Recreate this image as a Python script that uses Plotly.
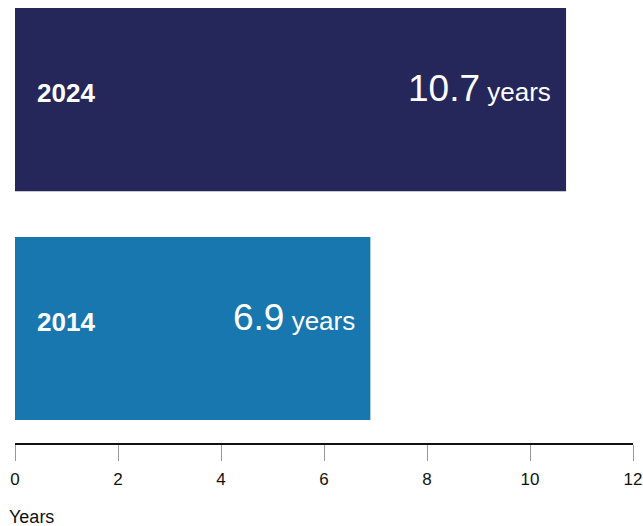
import plotly.graph_objects as go

# Average tenure by year
years = ["2014", "2024"]
values = [6.9, 10.7]
bar_colors = ["#1877AF", "#25275A"]
tick_vals = [0, 2, 4, 6, 8, 10, 12]
x_title = "Years"

FONT = "Liberation Sans, Arial, Helvetica, sans-serif"

fig = go.Figure(
    go.Bar(
        x=values,
        y=years,
        orientation="h",
        marker=dict(color=bar_colors, line=dict(width=0)),
        width=0.8,
        hoverinfo="skip",
    )
)

annotations = []
for i, (yr, v) in enumerate(zip(years, values)):
    # category label on the left of the bar (category axis -> use its index)
    annotations.append(dict(
        x=0, y=i, xref="x", yref="y",
        text=f"<b>{yr}</b>", showarrow=False,
        xanchor="left", yanchor="middle", xshift=20, yshift=7,
        font=dict(family=FONT, size=26, color="white"),
    ))
    # value label at the bar end
    annotations.append(dict(
        x=v, y=i, xref="x", yref="y",
        text=f"{v:g}<span style='font-size:26px'> years</span>",
        showarrow=False, xanchor="right", yanchor="middle",
        xshift=-13, yshift=11,
        font=dict(family=FONT, size=37, color="white"),
    ))

annotations.append(dict(
    x=0, y=0, xref="paper", yref="paper", xanchor="left", yanchor="top",
    xshift=-8, yshift=-62, text=x_title, showarrow=False,
    font=dict(family=FONT, size=18, color="#111111"),
))

fig.update_layout(
    width=643, height=526,
    margin=dict(l=15, r=10, t=8, b=83),
    paper_bgcolor="white", plot_bgcolor="white",
    showlegend=False,
    annotations=annotations,
    font=dict(family=FONT, color="#111111"),
)
fig.update_xaxes(
    range=[0, 12], tickvals=tick_vals, showgrid=False, zeroline=False,
    showline=True, linecolor="#111111", linewidth=2,
    ticks="outside", ticklen=16, tickcolor="#999999", tickwidth=1,
    tickfont=dict(family=FONT, size=17, color="#111111"),
    ticklabelstandoff=4, fixedrange=True, automargin=False,
)
fig.update_yaxes(
    type="category", categoryorder="array", categoryarray=years,
    range=[-0.5, 1.4], showticklabels=False, showgrid=False,
    zeroline=False, showline=False, fixedrange=True, automargin=False,
)

fig.write_html("out.html")
